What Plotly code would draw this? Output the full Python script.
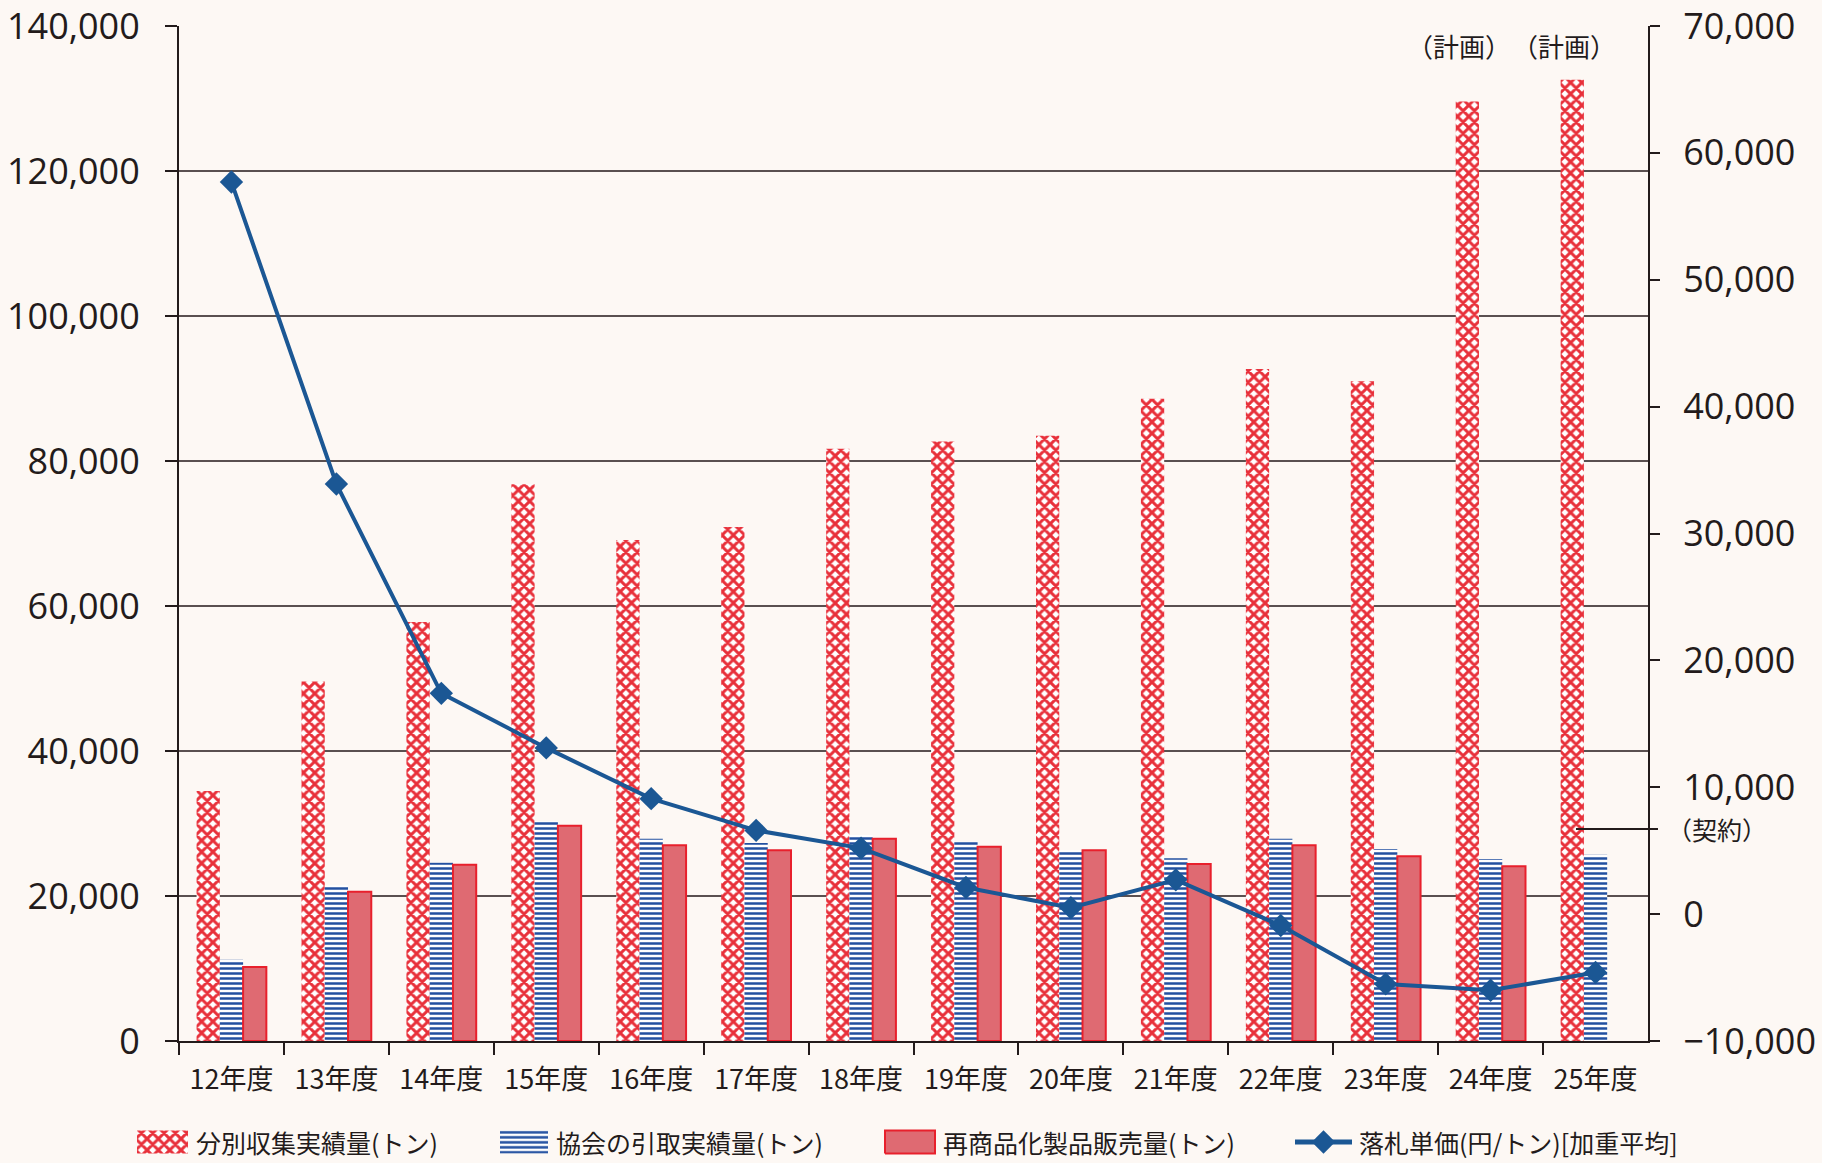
import plotly.graph_objects as go

categories = ["12年度", "13年度", "14年度", "15年度", "16年度", "17年度", "18年度",
              "19年度", "20年度", "21年度", "22年度", "23年度", "24年度", "25年度"]
collected = [34500, 49600, 57800, 76800, 69100, 70900, 81700,
             82700, 83500, 88600, 92700, 91000, 129600, 132600]
taken = [11200, 21500, 24600, 30300, 27900, 27300, 28400,
         27500, 26300, 25200, 27900, 26500, 25100, 25700]
sold = [10200, 20600, 24300, 29700, 27000, 26300, 27900,
        26800, 26300, 24400, 27000, 25500, 24100, None]
price = [57700, 33900, 17400, 13100, 9100, 6600, 5200,
         2100, 500, 2700, -900, -5500, -6000, -4600]
contract_price = 6700
plan_categories = ["24年度", "25年度"]

names = ["分別収集実績量(トン)", "協会の引取実績量(トン)", "再商品化製品販売量(トン)", "落札単価(円/トン)[加重平均]"]

FONT = "Noto Sans CJK JP"
NUMFONT = "Open Sans"
TXT = "#231b1b"
BG = "#fdf8f4"
RED = "#e8303a"
BLUE = "#2350a0"
PINK = "#df6a72"
PINK_EDGE = "#e8202c"
LINE = "#1b5794"

W, H = 1822, 1163
# plot area in pixels
PL, PR, PT, PB = 179, 1648, 26, 1041

xdom = [PL / W, PR / W]
ydom = [(H - PB) / H, (H - PT) / H]

cross = dict(shape="x", fgcolor=RED, bgcolor="white", size=8, solidity=0.6, fgopacity=1)
hlines = dict(shape="-", fgcolor=BLUE, bgcolor="white", size=5, solidity=0.5, fgopacity=1)

fig = go.Figure()
fig.add_trace(go.Bar(
    x=categories, y=collected, name=names[0], showlegend=False,
    marker=dict(color="white", line=dict(width=0), pattern=cross),
))
fig.add_trace(go.Bar(
    x=categories, y=taken, name=names[1], showlegend=False,
    marker=dict(color="white", line=dict(width=0), pattern=hlines),
))
fig.add_trace(go.Bar(
    x=categories, y=sold, name=names[2], showlegend=False,
    marker=dict(color=PINK, line=dict(color=PINK_EDGE, width=2)),
))
fig.add_trace(go.Scatter(
    x=categories, y=price, name=names[3], yaxis="y2", mode="lines+markers", showlegend=False,
    line=dict(color=LINE, width=4),
    marker=dict(symbol="diamond", size=18, color=LINE),
))

# ---- custom legend (decoration, in pixel-unit helper axes) ----
LEG_Y = 21
SW_H = 23
leg_items = [  # swatch left, swatch right, text left
    (137, 188, 194),
    (500, 548, 554),
    (885, 935, 941),
    (1295, 1352, 1357),
]
for i, (x0, x1, tx) in enumerate(leg_items):
    if i < 3:
        sty = dict(fill="toself", mode="lines", line=dict(width=0))
        if i == 0:
            sty.update(fillcolor="white", fillpattern=cross)
        elif i == 1:
            sty.update(fillcolor="white", fillpattern=hlines)
        else:
            sty.update(fillcolor=PINK, line=dict(color=PINK_EDGE, width=2))
        fig.add_trace(go.Scatter(
            x=[x0, x1, x1, x0, x0],
            y=[LEG_Y - SW_H / 2, LEG_Y - SW_H / 2, LEG_Y + SW_H / 2, LEG_Y + SW_H / 2, LEG_Y - SW_H / 2],
            xaxis="x3", yaxis="y3", showlegend=False, hoverinfo="skip", **sty))
    else:
        fig.add_trace(go.Scatter(
            x=[x0, (x0 + x1) / 2, x1], y=[LEG_Y, LEG_Y, LEG_Y], xaxis="x3", yaxis="y3",
            mode="lines", line=dict(color=LINE, width=5), showlegend=False, hoverinfo="skip"))
        fig.add_trace(go.Scatter(
            x=[(x0 + x1) / 2], y=[LEG_Y], xaxis="x3", yaxis="y3",
            mode="markers", marker=dict(symbol="diamond", size=18, color=LINE),
            showlegend=False, hoverinfo="skip"))
    fig.add_annotation(x=tx, y=LEG_Y, xref="x3", yref="y3", text=names[i], showarrow=False,
                       xanchor="left", yanchor="middle",
                       font=dict(family=FONT, size=25, color=TXT))

for c in plan_categories:
    fig.add_annotation(x=c, y=137300, xref="x", yref="y", text="（計画）", showarrow=False,
                       xshift=-32, font=dict(family=FONT, size=26, color=TXT))

fig.add_shape(type="line", xref="x domain", yref="y2", x0=0.951, x1=1.0068,
              y0=contract_price, y1=contract_price, line=dict(color=TXT, width=2))
fig.add_annotation(xref="x domain", yref="y2", x=1.0218, y=contract_price, text="（契約）",
                   showarrow=False, xanchor="left", yanchor="middle", xshift=-15,
                   font=dict(family=FONT, size=25, color=TXT))

fig.update_layout(
    width=W, height=H,
    paper_bgcolor=BG, plot_bgcolor=BG,
    margin=dict(l=0, r=0, t=0, b=0),
    barmode="group", bargap=0.335, bargroupgap=0,
    font=dict(family=FONT, color=TXT),
    showlegend=False,
    xaxis=dict(domain=xdom, anchor="y", type="category", range=[-0.5, 13.5],
               tickson="boundaries", ticks="outside", ticklen=12, tickwidth=2,
               tickcolor=TXT, showline=True, linecolor=TXT, linewidth=2, automargin=False,
               showgrid=False, tickfont=dict(family=FONT, size=27, color=TXT), ticklabelstandoff=14),
    yaxis=dict(domain=ydom, anchor="x", range=[0, 140000], dtick=20000, tickformat=",d",
               showgrid=True, gridcolor="#5a5050", gridwidth=1.5, zeroline=False, showline=True,
               linecolor=TXT, linewidth=2, ticks="outside", ticklen=12, tickwidth=1.5,
               tickcolor=TXT, tickfont=dict(family=NUMFONT, size=36, color=TXT),
               ticklabelstandoff=18, automargin=False, ticklabeloverflow="allow"),
    yaxis2=dict(range=[-10000, 70000], dtick=10000, tickformat=",d", overlaying="y", side="right",
                anchor="x", showgrid=False, zeroline=False, showline=True, linecolor=TXT, linewidth=2,
                ticks="outside", ticklen=10, tickwidth=1.5, tickcolor=TXT, automargin=False,
                tickfont=dict(family=NUMFONT, size=36, color=TXT), ticklabelstandoff=16,
                ticklabeloverflow="allow"),
    xaxis3=dict(domain=[0, 1], anchor="y3", range=[0, W], visible=False, fixedrange=True),
    yaxis3=dict(domain=[0, 0.05], anchor="x3", range=[0, 0.05 * H], visible=False, fixedrange=True),
)

fig.write_html(
    "out.html",
    config={"displayModeBar": False},
    post_script="document.body.style.margin='0';document.body.style.overflow='hidden';"
                "document.body.style.background='" + BG + "';",
)
